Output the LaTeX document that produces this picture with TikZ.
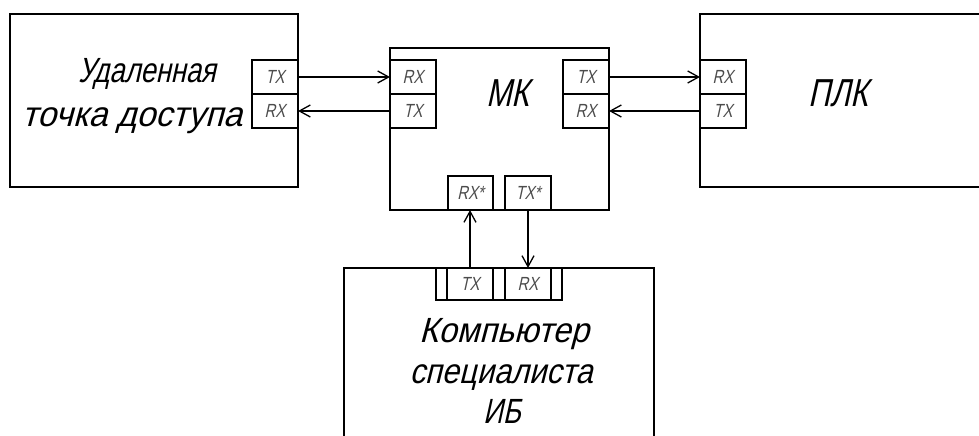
\documentclass[tikz,border=0pt]{standalone}
\usepackage{fontspec}
\usetikzlibrary{arrows.meta}
\newfontfamily\gost{Liberation Sans}[FakeSlant=0.22,FakeStretch=0.78]
\begin{document}
\begin{tikzpicture}[x=1pt,y=-1pt,
  box/.style={draw, line width=1.5pt, rectangle, inner sep=0pt, outer sep=0pt, anchor=north west},
  frame/.style={rectangle, inner sep=0pt, outer sep=0pt, anchor=north west},
  edge/.style={line width=1.5pt},
  port/.style={draw, line width=1.5pt, rectangle, inner sep=0pt, outer sep=0pt, anchor=north west,
    minimum width=46pt, minimum height=34pt, text=black!70, font=\gost\fontsize{19}{19}\selectfont},
  link/.style={line width=1.3pt, -{Straight Barb[length=11pt,width=12pt]}},
  big/.style={anchor=base, inner sep=0pt, font=\gost\fontsize{35}{35}\selectfont},
  huge/.style={anchor=base, inner sep=0pt, font=\gost\fontsize{39}{39}\selectfont}]
\useasboundingbox (0,0) rectangle (979,436);
\fill[white] (0,0) rectangle (979,436);

% remote access point
\node[box, minimum width=288pt, minimum height=173pt] (ap) at (10,14) {};
\node[port] (apTX) at (252,60) {TX};
\node[port] (apRX) at (252,94) {RX};
\node[big] (apL1) at (147,82) {Удаленная};
\node[big] (apL2) at (132,126) {\scalebox{1.24}[1]{точка доступа}};

% MK
\node[box, minimum width=219pt, minimum height=162pt] (mk) at (390,48) {};
\node[port] (mkRXl) at (390,60) {RX};
\node[port] (mkTXl) at (390,94) {TX};
\node[port] (mkTXr) at (563,60) {TX};
\node[port] (mkRXr) at (563,94) {RX};
\node[port, minimum width=45pt] (mkRXb) at (448,176) {RX*};
\node[port] (mkTXb) at (505,176) {TX*};
\node[huge] (mkL) at (508,106) {МК};

% PLC
\node[frame, minimum width=285pt, minimum height=173pt] (plc) at (700,14) {};
\draw[edge] (plc.north east) -- (plc.north west) -- (plc.south west) -- (plc.south east);
\node[port] (plcRX) at (700,60) {RX};
\node[port] (plcTX) at (700,94) {TX};
\node[huge] (plcL) at (838,106) {ПЛК};

% specialist computer
\node[frame, minimum width=310pt, minimum height=175pt] (pc) at (344,268) {};
\draw[edge] (pc.south west) -- (pc.north west) -- (pc.north east) -- (pc.south east);
\node[box, minimum width=126pt, minimum height=32pt] (strip) at (436,268) {};
\node[port, minimum height=32pt] (pcTX) at (447,268) {TX};
\node[port, minimum height=32pt] (pcRX) at (505,268) {RX};
\node[big] (pcL1) at (504,342) {\scalebox{1.2}[1]{Компьютер}};
\node[big] (pcL2) at (501,383) {\scalebox{1.13}[1]{специалиста}};
\node[big] (pcL3) at (502,423) {ИБ};

% connections
\draw[link] (apTX.east) -- (mkRXl.west);
\draw[link] (mkTXl.west) -- (apRX.east);
\draw[link] (mkTXr.east) -- (plcRX.west);
\draw[link] (plcTX.west) -- (mkRXr.east);
\draw[link] (pcTX.north) -- (pcTX.north |- mkRXb.south);
\draw[link] (mkTXb.south) -- (pcRX.north);
\end{tikzpicture}
\end{document}
